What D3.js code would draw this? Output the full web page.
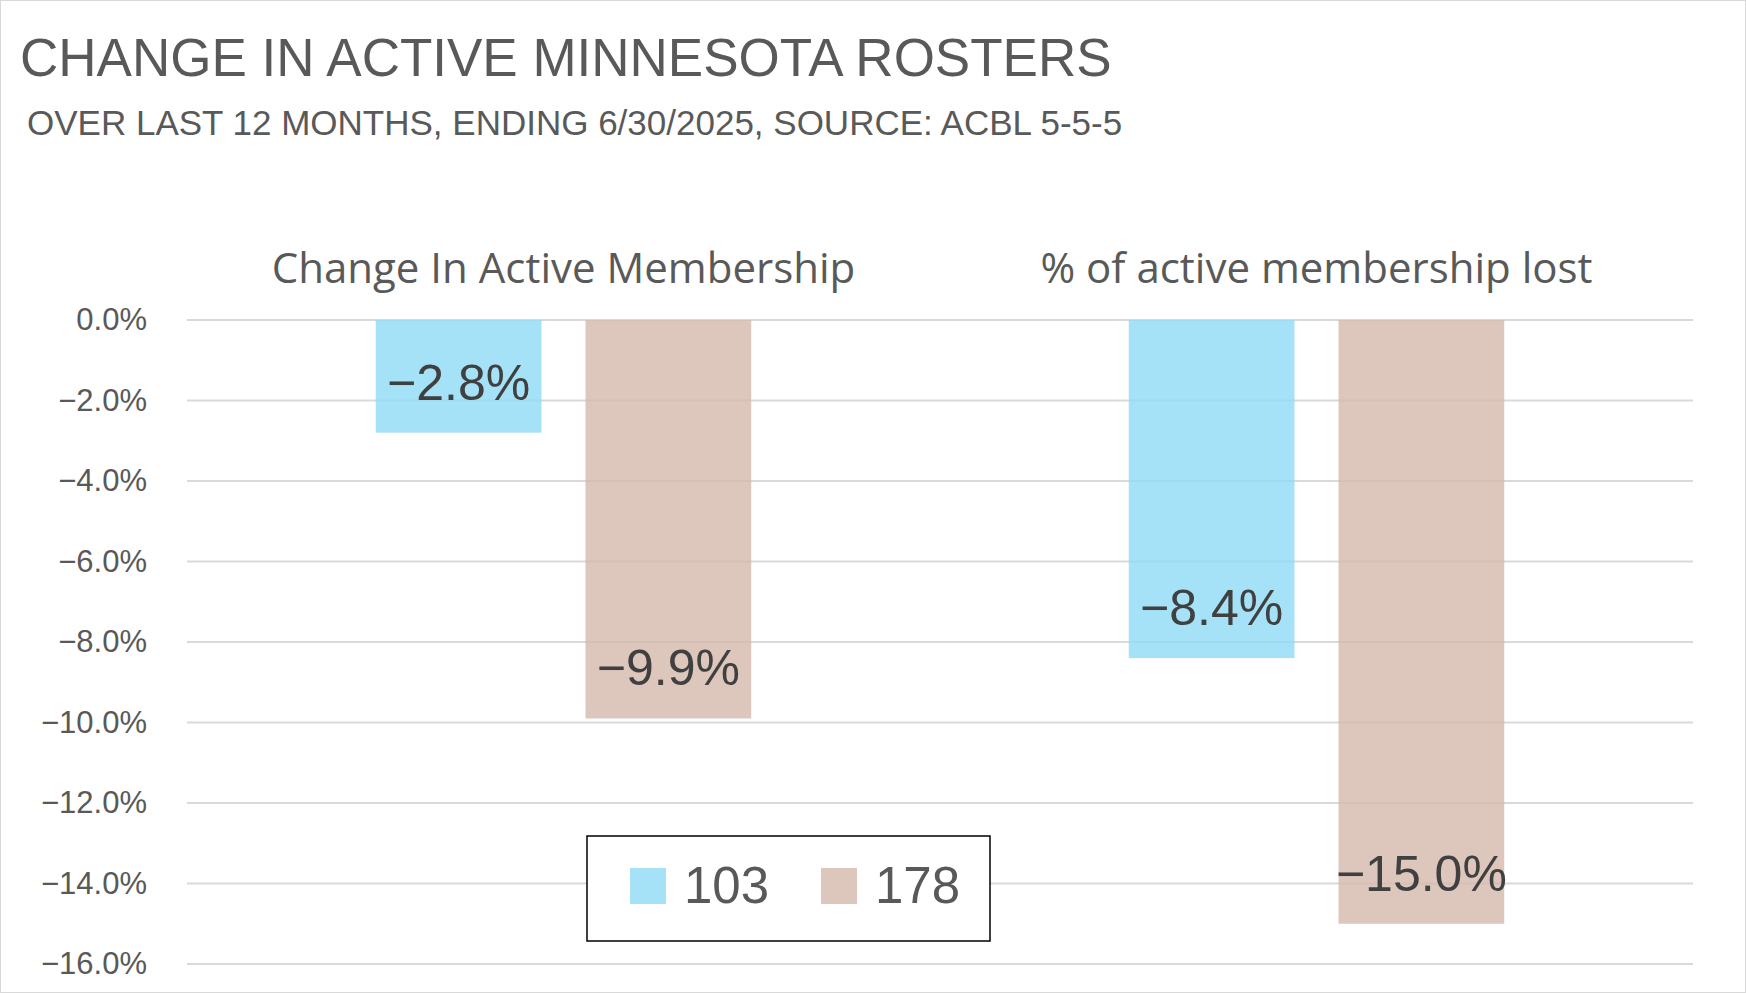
<!DOCTYPE html>
<html><head><meta charset="utf-8">
<script src="https://cdn.jsdelivr.net/npm/d3@7"></script>
<style>body{margin:0;background:#fff;font-family:"Liberation Sans",Arial,sans-serif;}</style>
</head><body><div id="chart"></div>
<script>
const categories = ['Change In Active Membership', '% of active membership lost'];
const seriesNames = ['103', '178'];
const values103 = [-2.8, -8.4];
const values178 = [-9.9, -15.0];
const yTicks = [0, -2, -4, -6, -8, -10, -12, -14, -16];
const colors = ['#8fd9f5', '#d4b8aa'];

const W = 1746, H = 993;
const svg = d3.select('#chart').append('svg').attr('width', W).attr('height', H);
svg.append('rect').attr('x', 0.5).attr('y', 0.5).attr('width', W - 1).attr('height', H - 1)
    .attr('fill', '#fff').attr('stroke', '#d9d9d9');

const txt = '#595959';
svg.append('text').attr('x', 20).attr('y', 76).attr('font-size', 53).attr('fill', txt)
    .text('CHANGE IN ACTIVE MINNESOTA ROSTERS');
svg.append('text').attr('x', 27).attr('y', 135).attr('font-size', 35).attr('fill', txt)
    .text('OVER LAST 12 MONTHS, ENDING 6/30/2025, SOURCE: ACBL 5-5-5');

const x0 = d3.scaleBand().domain(categories).range([187, 1693]);
const x1 = d3.scaleBand().domain(seriesNames).range([0, x0.bandwidth()]).paddingInner(0.21).paddingOuter(0.9);
const y = d3.scaleLinear().domain([-16, 0]).range([964, 320]);

// gridlines
svg.append('g').selectAll('line').data(yTicks).join('line')
    .attr('x1', 187).attr('x2', 1693).attr('y1', d => y(d)).attr('y2', d => y(d))
    .attr('stroke', '#d9d9d9').attr('stroke-width', 2);

const yAxis = svg.append('g').attr('transform', 'translate(147,0)')
    .call(d3.axisLeft(y).tickValues(yTicks).tickSize(0).tickFormat(d => d3.format('.1f')(d) + '%'));
yAxis.select('.domain').remove();
yAxis.selectAll('text').attr('font-size', 31).attr('fill', txt)
    .attr('font-family', '"Liberation Sans",Arial,sans-serif').attr('x', 0);

// category labels
svg.append('g').selectAll('text').data(categories).join('text')
    .attr('x', d => x0(d) + x0.bandwidth() / 2).attr('y', 283)
    .attr('text-anchor', 'middle').attr('font-size', 42).attr('fill', txt)
    .attr('font-family', '"Open Sans",sans-serif').text(d => d);

const data = categories.map((c, i) => ({c, vals: [values103[i], values178[i]]}));
const groups = svg.append('g').selectAll('g').data(data).join('g')
    .attr('transform', d => `translate(${x0(d.c)},0)`);
const bars = groups.selectAll('g').data(d => d.vals.map((v, j) => ({s: seriesNames[j], v, j}))).join('g');
bars.append('rect')
    .attr('x', d => x1(d.s)).attr('width', x1.bandwidth())
    .attr('y', y(0)).attr('height', d => y(d.v) - y(0))
    .attr('fill', d => colors[d.j]).attr('fill-opacity', 0.8);
bars.append('text')
    .attr('x', d => x1(d.s) + x1.bandwidth() / 2).attr('y', d => y(d.v) - 33)
    .attr('text-anchor', 'middle').attr('font-size', 50).attr('fill', '#404040')
    .text(d => d3.format('.1f')(d.v) + '%');

// legend
const lg = svg.append('g').attr('transform', 'translate(587,836)');
lg.append('rect').attr('width', 403).attr('height', 105).attr('fill', '#fff').attr('stroke', '#000').attr('stroke-width', 1.5);
const li = lg.selectAll('g').data(seriesNames).join('g')
    .attr('transform', (d, i) => `translate(${43 + i * 191},32)`);
li.append('rect').attr('width', 36).attr('height', 36).attr('fill', (d, i) => colors[i]).attr('fill-opacity', 0.8);
li.append('text').attr('x', 54).attr('y', 35).attr('font-size', 51).attr('fill', txt).text(d => d);
</script></body></html>
